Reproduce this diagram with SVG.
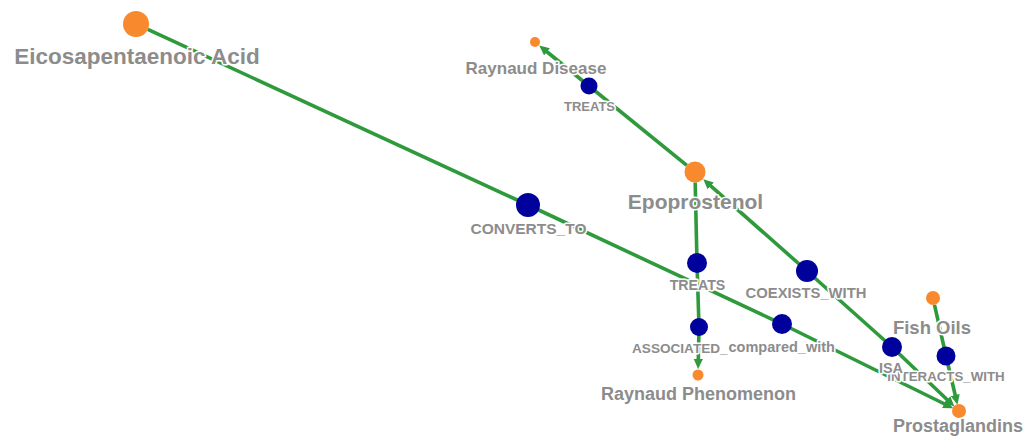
<svg xmlns="http://www.w3.org/2000/svg" width="1025" height="444" viewBox="0 0 1025 444">
  <defs>
    <style>
      .edge { stroke: #2e9a3c; stroke-width: 3.6; fill: none; }
      .arrowed { marker-end: url(#arrow); }
      .ent circle { fill: #f8892d; }
      .rel circle { fill: #00009c; }
      text {
        font-family: "Liberation Sans", Arial, sans-serif;
        font-weight: bold;
        fill: #8c8c8c;
        text-anchor: middle;
        stroke: #ffffff;
        stroke-width: 3;
        stroke-linejoin: round;
        paint-order: stroke;
      }
    </style>
    <marker id="arrow" markerUnits="userSpaceOnUse" markerWidth="11" markerHeight="10" viewBox="0 -5 11 10" refX="0.5" refY="0" orient="auto">
      <path d="M0,-4.6 L10,0 L0,4.6 z" fill="#2e9a3c"/>
    </marker>
  </defs>
  <rect width="1025" height="444" fill="#ffffff"/>

  <!-- connectors: subject -> relation -> object -->
  <g id="edges">
    <path class="edge" d="M147.8,29.4 L528,205"/>
    <path class="edge" d="M528,205 L782,324"/>
    <path class="edge arrowed" d="M782,324 L944.6,404"/>
    <path class="edge" d="M686.8,165.4 L589,86"/>
    <path class="edge arrowed" d="M589,86 L546.6,51.5"/>
    <path class="edge" d="M695.2,182.5 L697,263"/>
    <path class="edge" d="M697,263 L699,327"/>
    <path class="edge arrowed" d="M699,327 L698.3,359.5"/>
    <path class="edge arrowed" d="M807,271 L710.4,185.6"/>
    <path class="edge" d="M807,271 L892,347"/>
    <path class="edge arrowed" d="M892,347 L947.5,400"/>
    <path class="edge" d="M934.5,304.8 L946,356"/>
    <path class="edge arrowed" d="M946,356 L955.3,395.5"/>
  </g>

  <!-- relation nodes -->
  <g id="rel-treats-1" class="rel">
    <circle cx="589" cy="86" r="8.5"/>
    <text x="589.5" y="110.5" font-size="13">TREATS</text>
  </g>
  <g id="rel-converts-to" class="rel">
    <circle cx="528" cy="205" r="12"/>
    <text x="528.5" y="234" font-size="15.5">CONVERTS_TO</text>
  </g>
  <g id="rel-treats-2" class="rel">
    <circle cx="697" cy="263" r="10"/>
    <text x="697.5" y="290" font-size="14.2">TREATS</text>
  </g>
  <g id="rel-coexists-with" class="rel">
    <circle cx="807" cy="271" r="11"/>
    <text x="806" y="298" font-size="14.8">COEXISTS_WITH</text>
  </g>
  <g id="rel-associated" class="rel">
    <circle cx="699" cy="327" r="9"/>
    <text x="632" y="353" font-size="13.6" style="text-anchor:start">ASSOCIATED_</text>
  </g>
  <g id="rel-compared-with" class="rel">
    <circle cx="782" cy="324" r="10"/>
    <text x="781.7" y="352" font-size="14.5">compared_with</text>
  </g>
  <g id="rel-interacts-with" class="rel">
    <circle cx="946" cy="356" r="9.5"/>
    <text x="946" y="380.5" font-size="13.3">INTERACTS_WITH</text>
  </g>
  <g id="rel-isa" class="rel">
    <circle cx="892" cy="347" r="10"/>
    <text x="891" y="372.5" font-size="14.4">ISA</text>
  </g>

  <!-- entity nodes -->
  <g id="ent-eicosapentaenoic-acid" class="ent">
    <circle cx="136" cy="24" r="13"/>
    <text x="137" y="64" font-size="22.5">Eicosapentaenoic Acid</text>
  </g>
  <g id="ent-raynaud-disease" class="ent">
    <circle cx="535" cy="42" r="5"/>
    <text x="536" y="74" font-size="17">Raynaud Disease</text>
  </g>
  <g id="ent-epoprostenol" class="ent">
    <circle cx="695" cy="172" r="10.5"/>
    <text x="695.5" y="209" font-size="21">Epoprostenol</text>
  </g>
  <g id="ent-fish-oils" class="ent">
    <circle cx="933" cy="298" r="7"/>
    <text x="932" y="334" font-size="18.5">Fish Oils</text>
  </g>
  <g id="ent-prostaglandins" class="ent">
    <circle cx="959" cy="411" r="7"/>
    <text x="958" y="432" font-size="18">Prostaglandins</text>
  </g>
  <g id="ent-raynaud-phenomenon" class="ent">
    <circle cx="698" cy="375" r="5.5"/>
    <text x="698.5" y="400" font-size="18">Raynaud Phenomenon</text>
  </g>
</svg>
